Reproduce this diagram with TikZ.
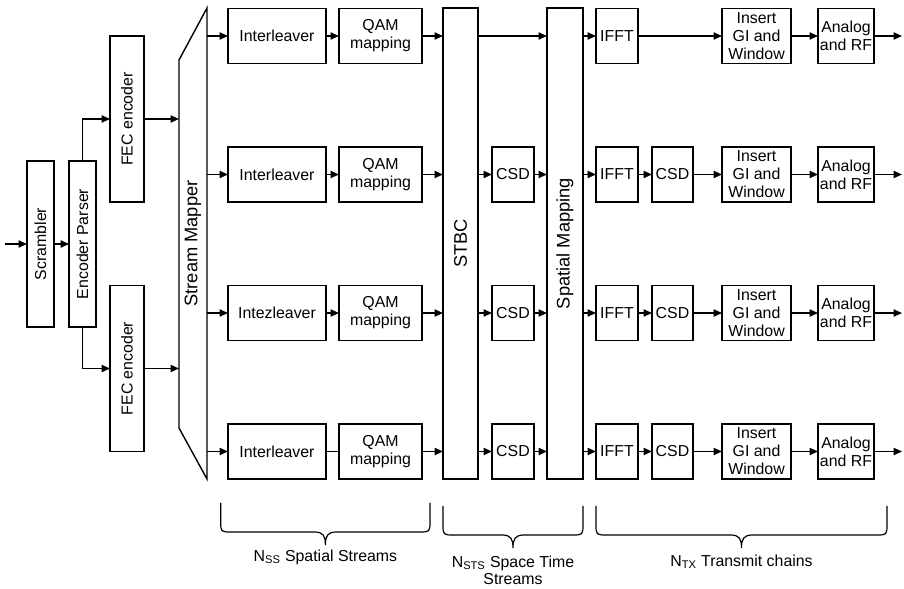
\documentclass[tikz,border=0pt]{standalone}
\usepackage{fontspec}
\setmainfont{Liberation Sans}
\usetikzlibrary{arrows.meta}

\begin{document}
\begin{tikzpicture}[x=0.25mm,y=-0.25mm,
  every node/.style={inner sep=0pt,outer sep=0pt,font=\fontsize{11.3}{12.8}\selectfont},
  blk/.style={draw,line width=0.35mm,minimum height=13.75mm,align=center},
  tall/.style={blk,minimum height=41.5mm},
  full/.style={blk,minimum height=117.75mm,font=\fontsize{13}{15}\selectfont},
  flow/.style={line width=0.35mm,-{Triangle[length=2.1mm,width=1.8mm]}},
  wire/.style={line width=0.35mm},
  brc/.style={line width=0.3mm},
  lbl/.style={align=center,font=\fontsize{11.3}{11.9}\selectfont}]
\useasboundingbox (0,0) rectangle (904,589);

% ---- scrambler, parser, encoders ----------------------------------------
\coordinate (in) at (5,244);
\node[tall,minimum width=6.75mm] (scr) at (40.5,244) {\rotatebox{90}{Scrambler}};
\node[tall,minimum width=6.75mm] (ep) at (82.5,244) {\rotatebox{90}{Encoder Parser}};
\node[tall,minimum width=8.5mm] (fec1) at (127,119) {\rotatebox{90}{FEC encoder}};
\node[tall,minimum width=8.5mm] (fec2) at (127,368.5) {\rotatebox{90}{FEC encoder}};

\draw[flow] (in) -- (scr);
\draw[flow] (scr) -- (ep);
\draw[flow] (ep.north) |- (fec1);
\draw[flow] (ep.south) |- (fec2);

% ---- stream mapper -------------------------------------------------------
\draw[wire] (179,60) -- (207,8) -- (207,479) -- (179,428) -- cycle;
\node[minimum width=7mm,minimum height=117.75mm,font=\fontsize{13}{15}\selectfont] (sm)
  at (193,243.5) {\rotatebox{90}{Stream Mapper}};
\draw[flow] (fec1) -- (fec1 -| sm.west);
\draw[flow] (fec2) -- (fec2 -| sm.west);

% ---- STBC and spatial mapping -------------------------------------------
\node[full,minimum width=8.75mm] (stbc) at (460.5,243.5) {\rotatebox{90}{STBC}};
\node[full,minimum width=9mm] (spm) at (565,243.5) {\rotatebox{90}{Spatial Mapping}};

% ---- the four rows -------------------------------------------------------
\foreach \r/\y/\il/\ln in {1/36/Interleaver/flow, 2/174.5/Interleaver/flow,
                          3/313/Intezleaver/flow, 4/451.5/Interleaver/wire} {
  \node[blk,minimum width=24.5mm] (il\r) at (277,\y) {\il};
  \node[blk,minimum width=20.75mm] (qam\r) at (380.5,\y) {QAM\\mapping};
  \node[blk,minimum width=10.5mm] (ifft\r) at (617,\y) {IFFT};
  \node[blk,minimum width=17.25mm] (gi\r) at (756.5,\y) {Insert\\GI and\\Window};
  \node[blk,minimum width=14mm] (rf\r) at (846,\y) {Analog\\and RF};
  \coordinate (out\r) at (902,\y);
  \draw[flow] (il\r.west -| sm.east) -- (il\r);
  \draw[\ln] (il\r) -- (qam\r);
  \draw[flow] (qam\r) -- (qam\r.east -| stbc.west);
  \draw[flow] (ifft\r.west -| spm.east) -- (ifft\r);
  \draw[flow] (gi\r) -- (rf\r);
  \draw[flow] (rf\r) -- (out\r);
}

% row 1 has no cyclic shift
\draw[flow] (stbc.east |- il1) -- (spm.west |- il1);
\draw[flow] (ifft1) -- (gi1);

\foreach \r/\y in {2/174.5, 3/313, 4/451.5} {
  \node[blk,minimum width=10.5mm] (csda\r) at (513,\y) {CSD};
  \node[blk,minimum width=10.25mm] (csdb\r) at (672.5,\y) {CSD};
  \draw[flow] (csda\r.west -| stbc.east) -- (csda\r);
  \draw[flow] (csda\r) -- (csda\r.east -| spm.west);
  \draw[flow] (ifft\r) -- (csdb\r);
  \draw[flow] (csdb\r) -- (gi\r);
}

% ---- braces --------------------------------------------------------------
\foreach \l/\m/\rr/\t in {220.7/325.4/430/503, 443/513/583/506, 596/741.5/887/506} {
  \draw[brc] (\l,\t) -- (\l,\t+18) .. controls (\l,\t+29) .. (\l+11,\t+29)
    -- (\m-11,\t+29) .. controls (\m-2,\t+29) and (\m,\t+33) .. (\m,\t+42)
    .. controls (\m,\t+33) and (\m+2,\t+29) .. (\m+11,\t+29)
    -- (\rr-11,\t+29) .. controls (\rr,\t+29) .. (\rr,\t+18) -- (\rr,\t);
}
\node[lbl] (nss) at (325.4,557) {N\textsubscript{SS} Spatial Streams};
\node[lbl] (nsts) at (513,570) {N\textsubscript{STS} Space Time\\Streams};
\node[lbl] (ntx) at (741.5,562) {N\textsubscript{TX} Transmit chains};
\end{tikzpicture}
\end{document}
